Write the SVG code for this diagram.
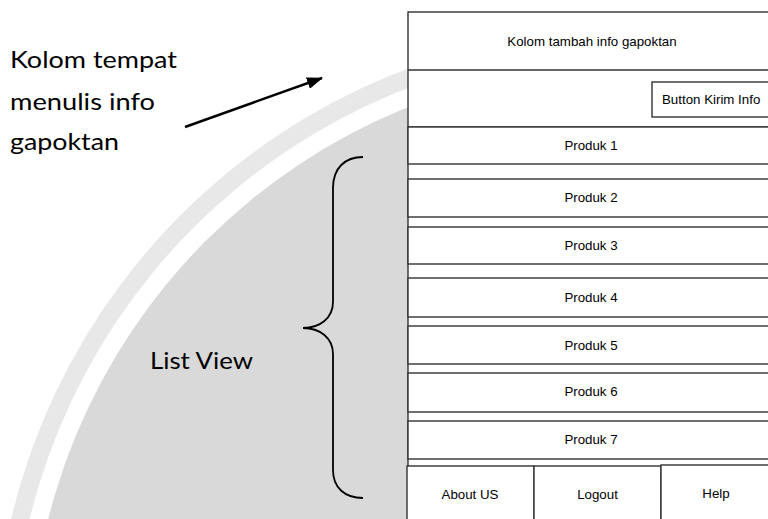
<svg xmlns="http://www.w3.org/2000/svg" width="768" height="519" viewBox="0 0 768 519">
<style>
.ln{stroke:#333;stroke-width:1.4;fill:none}
.box{fill:#fff;stroke:#333;stroke-width:1.4}
.ui{font-family:"Liberation Sans",Arial,sans-serif;font-size:13.3px;fill:#000;text-anchor:middle}
.lbl{font-family:Lato,"Liberation Sans",sans-serif;font-size:24px;fill:#000}
.con{stroke:#000;stroke-width:2.4;fill:none}
</style>
<defs>
<marker id="ah" viewBox="0 0 16 12" refX="15" refY="6" markerWidth="16" markerHeight="12" markerUnits="userSpaceOnUse" orient="auto">
<path d="M0,0 L16,6 L0,12 z" fill="#000"/>
</marker>
</defs>
<rect width="768" height="519" fill="#fff"/>
<g id="background">
<circle cx="632" cy="666" r="638" fill="#e8e8e8"/>
<circle cx="632" cy="666" r="620" fill="#fff"/>
<circle cx="632" cy="666" r="602" fill="#d9d9d9"/>
</g>
<g id="frame">
<rect x="408" y="12" width="380" height="530" class="box"/>
</g>
<g id="header">
<line x1="408" y1="70" x2="768" y2="70" class="ln"/>
<text x="592" y="46" class="ui">Kolom tambah info gapoktan</text>
</g>
<g id="button-kirim">
<line x1="408" y1="127" x2="768" y2="127" class="ln"/>
<rect x="652" y="82" width="130" height="35" class="box"/>
<text x="662" y="104" class="ui" style="text-anchor:start">Button Kirim Info</text>
</g>
<g id="produk1"><rect x="408" y="127" width="380" height="37" class="box"/><text x="591" y="150" class="ui">Produk 1</text></g>
<g id="produk2"><rect x="408" y="179" width="380" height="38" class="box"/><text x="591" y="202" class="ui">Produk 2</text></g>
<g id="produk3"><rect x="408" y="227" width="380" height="37" class="box"/><text x="591" y="250" class="ui">Produk 3</text></g>
<g id="produk4"><rect x="408" y="278" width="380" height="39" class="box"/><text x="591" y="302" class="ui">Produk 4</text></g>
<g id="produk5"><rect x="408" y="326" width="380" height="38" class="box"/><text x="591" y="350" class="ui">Produk 5</text></g>
<g id="produk6"><rect x="408" y="373" width="380" height="39" class="box"/><text x="591" y="396" class="ui">Produk 6</text></g>
<g id="produk7"><rect x="408" y="421" width="380" height="38" class="box"/><text x="591" y="444" class="ui">Produk 7</text></g>
<g id="about-us"><rect x="407" y="466" width="127" height="60" class="box"/><text x="470" y="499" class="ui">About US</text></g>
<g id="logout"><rect x="534" y="466" width="127" height="60" class="box"/><text x="597.5" y="499" class="ui">Logout</text></g>
<g id="help"><rect x="661" y="465" width="130" height="60" class="box"/><text x="716" y="498" class="ui">Help</text></g>
<g id="label-kolom">
<text x="10" y="68" class="lbl" textLength="167" lengthAdjust="spacingAndGlyphs">Kolom tempat</text>
<text x="10" y="110" class="lbl" textLength="145" lengthAdjust="spacingAndGlyphs">menulis info</text>
<text x="10" y="150" class="lbl" textLength="109" lengthAdjust="spacingAndGlyphs">gapoktan</text>
</g>
<g id="label-listview">
<text x="150" y="369" class="lbl" textLength="103" lengthAdjust="spacingAndGlyphs">List View</text>
</g>
<g id="connectors">
<line x1="185" y1="127" x2="322" y2="78" class="con" marker-end="url(#ah)"/>
<path d="M363,157 C345,157 333,168 333,188 V302 C333,318 320,328 303,328 C320,328 333,338 333,354 V470 C333,488 345,498 363,498" class="con" style="stroke-width:1.8"/>
</g>
</svg>
